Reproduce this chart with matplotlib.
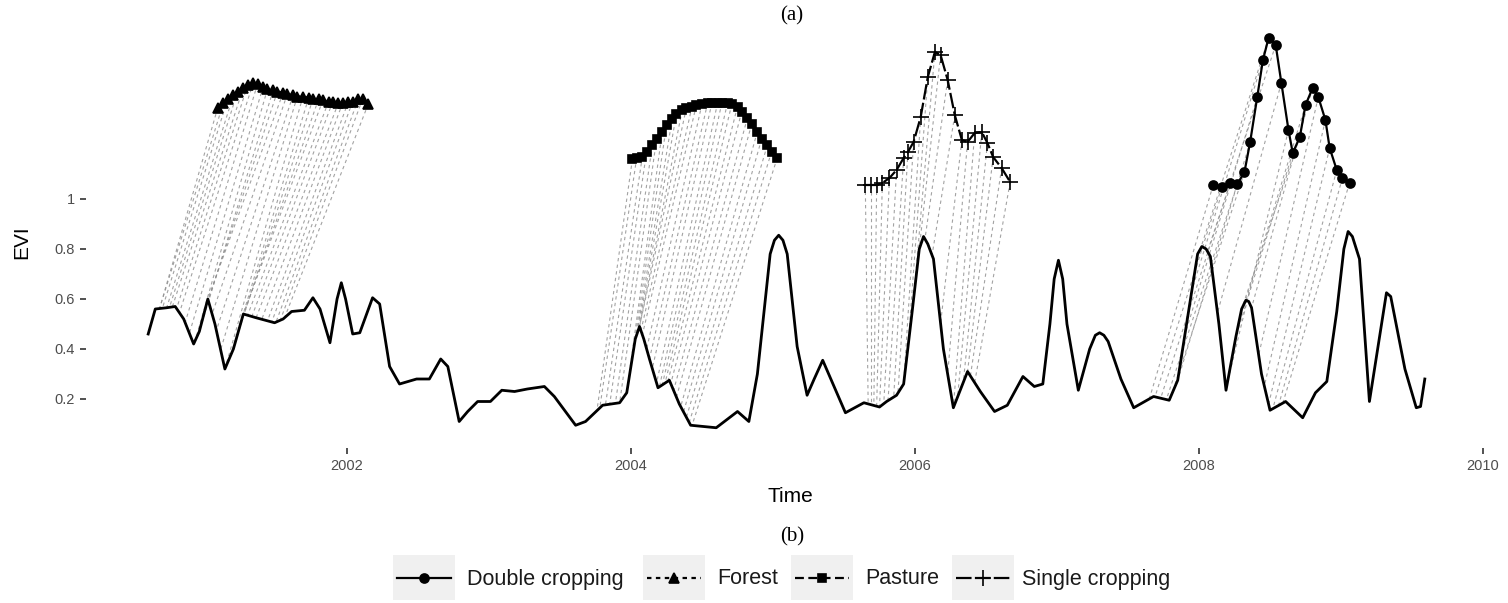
import numpy as np
import matplotlib
matplotlib.use("Agg")
import matplotlib.pyplot as plt
from matplotlib.collections import LineCollection
from matplotlib.lines import Line2D
from matplotlib.patches import Rectangle

plt.rcParams["font.family"] = ["Liberation Sans", "DejaVu Sans"]

# ---- EVI time series (decimal year, EVI) ----
ts_time = [2000.60, 2000.65, 2000.73, 2000.79, 2000.85, 2000.92, 2000.96, 2001.02, 2001.07, 2001.14,
           2001.20, 2001.27, 2001.36, 2001.49, 2001.55, 2001.61, 2001.70, 2001.76, 2001.81, 2001.88,
           2001.93, 2001.96, 2001.99, 2002.04, 2002.09, 2002.18, 2002.23, 2002.30, 2002.37, 2002.49,
           2002.58, 2002.66, 2002.71, 2002.79, 2002.85, 2002.92, 2003.01, 2003.09, 2003.18, 2003.27,
           2003.39, 2003.46, 2003.61, 2003.68, 2003.80, 2003.92, 2003.97, 2004.03, 2004.06, 2004.09,
           2004.13, 2004.19, 2004.27, 2004.34, 2004.42, 2004.60, 2004.75, 2004.83, 2004.89, 2004.98,
           2005.01, 2005.04, 2005.07, 2005.10, 2005.17, 2005.24, 2005.29, 2005.35, 2005.43, 2005.51,
           2005.64, 2005.75, 2005.80, 2005.87, 2005.92, 2005.98, 2006.03, 2006.06, 2006.09, 2006.13,
           2006.20, 2006.27, 2006.37, 2006.46, 2006.56, 2006.65, 2006.76, 2006.84, 2006.90, 2006.95,
           2006.98, 2007.01, 2007.04, 2007.07, 2007.15, 2007.23, 2007.27, 2007.30, 2007.33, 2007.36,
           2007.45, 2007.54, 2007.68, 2007.79, 2007.85, 2007.94, 2007.99, 2008.02, 2008.05, 2008.08,
           2008.14, 2008.19, 2008.26, 2008.30, 2008.33, 2008.35, 2008.37, 2008.44, 2008.50, 2008.61,
           2008.73, 2008.82, 2008.90, 2008.97, 2009.02, 2009.05, 2009.08, 2009.13, 2009.20, 2009.32,
           2009.35, 2009.45, 2009.53, 2009.56, 2009.59]
ts_evi = [0.46, 0.56, 0.565, 0.57, 0.52, 0.42, 0.47, 0.60, 0.50, 0.32,
          0.40, 0.54, 0.525, 0.505, 0.52, 0.55, 0.555, 0.605, 0.56, 0.425,
          0.60, 0.665, 0.60, 0.46, 0.465, 0.605, 0.58, 0.33, 0.26, 0.28,
          0.28, 0.36, 0.33, 0.11, 0.15, 0.19, 0.19, 0.235, 0.23, 0.24,
          0.25, 0.21, 0.095, 0.11, 0.175, 0.185, 0.225, 0.44, 0.49, 0.44,
          0.36, 0.245, 0.275, 0.18, 0.095, 0.085, 0.15, 0.11, 0.30, 0.78,
          0.835, 0.855, 0.835, 0.78, 0.41, 0.215, 0.28, 0.355, 0.25, 0.145,
          0.185, 0.168, 0.19, 0.215, 0.26, 0.55, 0.80, 0.85, 0.82, 0.76,
          0.40, 0.165, 0.31, 0.23, 0.15, 0.175, 0.29, 0.25, 0.26, 0.50,
          0.68, 0.755, 0.68, 0.50, 0.235, 0.40, 0.455, 0.465, 0.455, 0.43,
          0.28, 0.165, 0.21, 0.195, 0.275, 0.60, 0.78, 0.81, 0.80, 0.77,
          0.50, 0.235, 0.45, 0.56, 0.595, 0.59, 0.565, 0.30, 0.155, 0.19,
          0.125, 0.225, 0.27, 0.55, 0.80, 0.87, 0.85, 0.76, 0.19, 0.625,
          0.61, 0.32, 0.165, 0.17, 0.28]

# ---- patterns (drawn shifted upwards) and the ts time each point is matched to ----
forest_time = [2001.09, 2001.13, 2001.16, 2001.20, 2001.23, 2001.27, 2001.30, 2001.34, 2001.37, 2001.41,
               2001.44, 2001.48, 2001.51, 2001.55, 2001.58, 2001.62, 2001.65, 2001.69, 2001.73, 2001.76,
               2001.80, 2001.83, 2001.87, 2001.90, 2001.94, 2001.97, 2002.01, 2002.04, 2002.08, 2002.11,
               2002.15]
forest_evi = [1.365, 1.385, 1.40, 1.415, 1.43, 1.445, 1.455, 1.465, 1.46, 1.45,
              1.44, 1.435, 1.43, 1.425, 1.42, 1.415, 1.41, 1.41, 1.405, 1.40,
              1.40, 1.395, 1.39, 1.39, 1.385, 1.385, 1.39, 1.39, 1.40, 1.40,
              1.38]
forest_match = [2000.68, 2000.68, 2000.70, 2000.73, 2000.75, 2000.77, 2000.80, 2000.82, 2000.86, 2000.89,
                2000.93, 2000.96, 2001.00, 2001.02, 2001.05, 2001.08, 2001.11, 2001.14, 2001.18, 2001.22,
                2001.25, 2001.27, 2001.30, 2001.33, 2001.36, 2001.40, 2001.44, 2001.47, 2001.50, 2001.53,
                2001.56]

pasture_time = [2004.01, 2004.04, 2004.08, 2004.11, 2004.15, 2004.18, 2004.22, 2004.25, 2004.29, 2004.32,
                2004.36, 2004.39, 2004.43, 2004.46, 2004.50, 2004.54, 2004.57, 2004.61, 2004.64, 2004.68,
                2004.71, 2004.75, 2004.78, 2004.82, 2004.85, 2004.89, 2004.92, 2004.96, 2004.99, 2005.03]
pasture_evi = [1.16, 1.165, 1.17, 1.19, 1.215, 1.24, 1.27, 1.295, 1.32, 1.34,
               1.355, 1.365, 1.37, 1.375, 1.38, 1.385, 1.385, 1.385, 1.385, 1.385,
               1.38, 1.37, 1.35, 1.325, 1.30, 1.27, 1.24, 1.215, 1.19, 1.165]
pasture_match = [2003.76, 2003.78, 2003.82, 2003.85, 2003.89, 2003.92, 2003.97, 2004.01, 2004.04, 2004.05,
                 2004.06, 2004.06, 2004.07, 2004.08, 2004.11, 2004.13, 2004.15, 2004.18, 2004.20, 2004.22,
                 2004.24, 2004.26, 2004.28, 2004.30, 2004.32, 2004.35, 2004.37, 2004.39, 2004.41, 2004.43]

single_time = [2005.65, 2005.69, 2005.73, 2005.77, 2005.82, 2005.87, 2005.92, 2005.95, 2005.99, 2006.04,
               2006.09, 2006.14, 2006.18, 2006.23, 2006.28, 2006.33, 2006.37, 2006.42, 2006.47, 2006.51,
               2006.55, 2006.61, 2006.67]
single_evi = [1.056, 1.056, 1.056, 1.064, 1.084, 1.116, 1.164, 1.188, 1.228, 1.328,
              1.488, 1.588, 1.576, 1.476, 1.336, 1.236, 1.228, 1.264, 1.268, 1.224,
              1.168, 1.124, 1.068]
single_match = [2005.67, 2005.69, 2005.71, 2005.73, 2005.75, 2005.78, 2005.81, 2005.85, 2005.88, 2005.92,
                2005.95, 2005.99, 2006.02, 2006.07, 2006.12, 2006.18, 2006.23, 2006.27, 2006.30, 2006.34,
                2006.37, 2006.39, 2006.42]

double_time = [2008.10, 2008.16, 2008.22, 2008.27, 2008.32, 2008.36, 2008.41, 2008.45, 2008.49, 2008.54,
               2008.58, 2008.63, 2008.66, 2008.71, 2008.75, 2008.80, 2008.84, 2008.89, 2008.92, 2008.97,
               2009.01, 2009.06]
double_evi = [1.056, 1.048, 1.064, 1.06, 1.108, 1.228, 1.408, 1.556, 1.644, 1.616,
              1.464, 1.276, 1.184, 1.248, 1.376, 1.444, 1.408, 1.316, 1.204, 1.116,
              1.084, 1.064]
double_match = [2007.65, 2007.69, 2007.73, 2007.77, 2007.81, 2007.85, 2007.90, 2007.95, 2008.01, 2008.06,
                2008.13, 2008.20, 2008.26, 2008.30, 2008.33, 2008.37, 2008.42, 2008.46, 2008.49, 2008.52,
                2008.56, 2008.59]

labels = ["Double cropping", "Forest", "Pasture", "Single cropping"]
x_ticks = [2002, 2004, 2006, 2008, 2010]
y_ticks = [0.2, 0.4, 0.6, 0.8, 1.0]
y_ticklabels = ["0.2", "0.4", "0.6", "0.8", "1"]

# line style per class (ggplot default linetypes / shapes)
STYLE = {
    "Double cropping": dict(marker="o", ms=6.5, dashes=None),
    "Forest": dict(marker="^", ms=6.5, dashes=(2, 2)),
    "Pasture": dict(marker="s", ms=6.0, dashes=(4, 2)),
    "Single cropping": dict(marker="+", ms=12, dashes=(7, 1.5)),
}
series = {
    "Double cropping": (double_time, double_evi, double_match),
    "Forest": (forest_time, forest_evi, forest_match),
    "Pasture": (pasture_time, pasture_evi, pasture_match),
    "Single cropping": (single_time, single_evi, single_match),
}

W, H = 1508, 603
fig = plt.figure(figsize=(W / 100, H / 100), dpi=100)
ax = fig.add_axes([86 / W, 1 - 447.5 / H, (1487 - 86) / W, (447.5 - 18.5) / H])
ax.set_xlim(2000.162, 2010.028)
ax.set_ylim(0.006, 1.722)

# alignment lines
for name in labels:
    pt, pv, mt = series[name]
    mv = np.interp(mt, ts_time, ts_evi)
    segs = [[(a, b), (c, d)] for a, b, c, d in zip(pt, pv, mt, mv)]
    ax.add_collection(LineCollection(segs, colors="#8c8c8c", linewidths=0.8,
                                     linestyles=(0, (3, 3)), alpha=0.8, zorder=1))

ax.plot(ts_time, ts_evi, color="black", lw=2.0, zorder=3, solid_joinstyle="round")

for name in labels:
    pt, pv, _ = series[name]
    st = STYLE[name]
    ln, = ax.plot(pt, pv, color="black", lw=1.6, marker=st["marker"], ms=st["ms"],
                  mew=1.2, zorder=4)
    if st["dashes"]:
        ln.set_dashes(st["dashes"])

for s in ax.spines.values():
    s.set_visible(False)
ax.set_xticks(x_ticks)
ax.set_xticklabels([str(t) for t in x_ticks])
ax.set_yticks(y_ticks)
ax.set_yticklabels(y_ticklabels)
ax.tick_params(length=4, width=1.2, color="#333333", labelcolor="#4d4d4d", labelsize=10.5, pad=4)

fig.text(22 / W, 1 - 242 / H, "EVI", rotation=90, ha="center", va="center", fontsize=15)
fig.text(790 / W, 1 - 497 / H, "Time", ha="center", va="center", fontsize=15)
fig.text(792 / W, 1 - 16 / H, "(a)", ha="center", va="center", fontsize=15,
         family=["Liberation Serif", "DejaVu Serif"])
fig.text(792 / W, 1 - 537 / H, "(b)", ha="center", va="center", fontsize=15,
         family=["Liberation Serif", "DejaVu Serif"])

# legend with grey key boxes
key_left = [393, 643, 791, 952]
text_left = [467, 717, 865, 1022]
yc = 578
for name, kx, tx in zip(labels, key_left, text_left):
    st = STYLE[name]
    fig.patches.append(Rectangle((kx / W, 1 - 600 / H), 62 / W, 45 / H, transform=fig.transFigure,
                                 facecolor="#f0f0f0", edgecolor="none"))
    ln = Line2D([(kx + 4) / W, (kx + 58) / W], [1 - yc / H] * 2, transform=fig.transFigure,
                color="black", lw=1.6)
    if st["dashes"]:
        ln.set_dashes(st["dashes"])
    fig.lines.append(ln)
    fig.lines.append(Line2D([(kx + 31) / W], [1 - yc / H], transform=fig.transFigure, color="black",
                            marker=st["marker"], ms=st["ms"], mew=1.2, linestyle="none"))
    fig.text(tx / W, 1 - (yc + 1) / H, name, ha="left", va="center", fontsize=15.5, color="#1a1a1a")

fig.savefig("out.png", dpi=100)
